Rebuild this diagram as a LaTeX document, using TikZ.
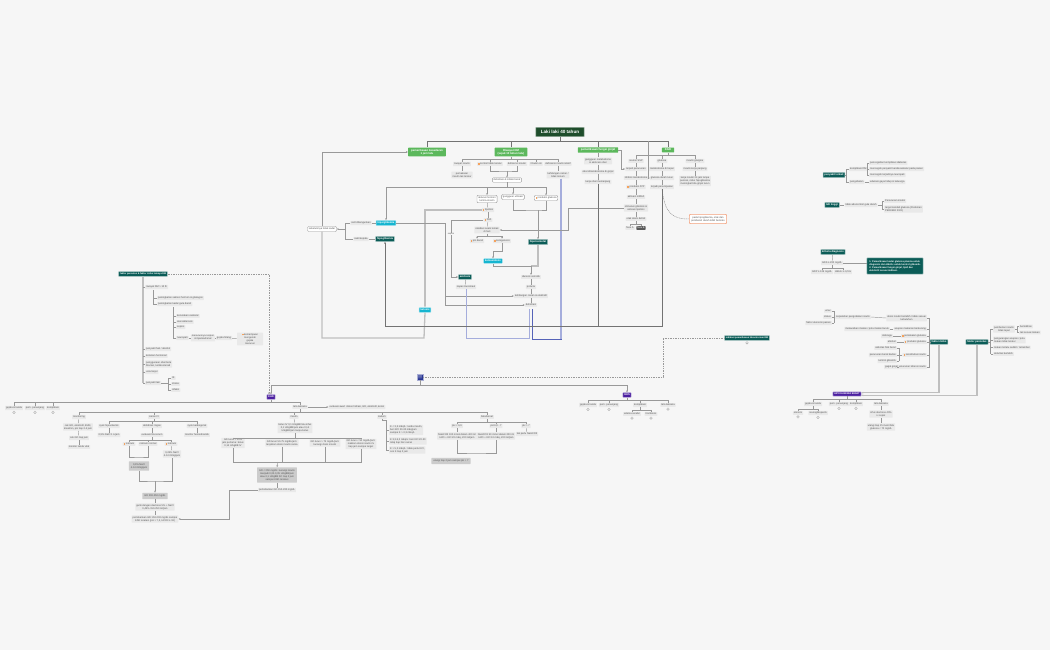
\documentclass[tikz,border=0pt]{standalone}
\usepackage{fontspec}
\setmainfont{Liberation Sans}
\usetikzlibrary{arrows.meta,calc,positioning}
\definecolor{bgc}{HTML}{F6F6F6}
\definecolor{leafc}{HTML}{E9E9E9}
\definecolor{txtc}{HTML}{555555}
\definecolor{rootc}{HTML}{1E4D2B}
\definecolor{grnc}{HTML}{5CB85C}
\definecolor{tealc}{HTML}{0B5C57}
\definecolor{cyanc}{HTML}{16B5D0}
\definecolor{purc}{HTML}{4B1FA0}
\definecolor{navyc}{HTML}{283593}
\definecolor{orgc}{HTML}{F2A07B}
\definecolor{icoc}{HTML}{F5A25D}
\definecolor{lnc}{HTML}{999999}
\definecolor{bl1c}{HTML}{A5ADDC}
\definecolor{bl2c}{HTML}{5563B8}
\newcommand{\icn}{\textcolor{icoc}{\rule{1.6pt}{1.6pt}}\hspace{0.6pt}}
\tikzset{pin/.style={-{Stealth[length=2pt,width=1.8pt]}},
  ln/.style={draw=lnc, line width=0.45pt},
  tk/.style={draw=black!55, line width=0.9pt},
  fat/.style={draw=black!25, line width=1.3pt},
  dsh/.style={draw=lnc, line width=0.5pt, dash pattern=on 1pt off 0.7pt},
  bl1/.style={draw=bl1c, line width=0.9pt},
  bl2/.style={draw=bl2c, line width=0.7pt},
  leaf/.style={fill=leafc, text=txtc, rounded corners=0.5pt, inner sep=1pt, align=center, font=\fontsize{2.5}{3}\selectfont},
  lbox/.style={leaf, fill=white, draw=lnc, line width=0.4pt, rounded corners=1pt, inner sep=1.3pt},
  dg/.style={leaf, fill=black!20, inner sep=2pt},
  dk/.style={leaf, fill=black!65, text=white},
  ob/.style={leaf, fill=white, draw=orgc, line width=0.6pt, rounded corners=1pt, inner sep=2pt},
  hd/.style={inner sep=1.4pt, text=white, align=center, rounded corners=0.5pt, font=\fontsize{2.6}{3.1}\selectfont\bfseries},
  root/.style={hd, fill=rootc, draw=rootc!50, line width=0.6pt, inner xsep=5pt, inner ysep=3pt, font=\fontsize{4.6}{5.5}\selectfont\bfseries},
  gbr/.style={hd, fill=grnc, inner xsep=3pt, font=\fontsize{2.8}{3.3}\selectfont\bfseries},
  tl/.style={hd, fill=tealc, draw=tealc!35, line width=0.5pt},
  cy/.style={hd, fill=cyanc, draw=cyanc!35, line width=0.5pt},
  pu/.style={hd, fill=purc, draw=purc!35, line width=0.5pt},
  ring/.style={circle, draw=lnc, line width=0.3pt, minimum size=2.6pt, inner sep=0pt}}

\begin{document}
\begin{tikzpicture}[x=1pt,y=-1pt]
  \fill[bgc] (0,0) rectangle (1050,650);
  \useasboundingbox (0,0) rectangle (1050,650);
  % title and main branches
  \node[root] (root) at (560,132) {Laki laki 40 tahun};
  \node[gbr] (bA) at (427,152) {pemeriksaan kesadaran\\1 jam lalu};
  \node[gbr] (bB) at (511,152) {Riwayat DM\\(sejak 10 tahun lalu)};
  \node[gbr] (bC) at (598,150) {pemeriksaan fungsi ginjal};
  \node[gbr] (bD) at (668,150) {KGD};
  \coordinate (rbus) at (560,141);
  \draw[tk] (root) -- (rbus);
  \foreach \n in {bA,bB,bC,bD} \draw[tk] (\n.north) |- (rbus);

  % riwayat DM
  \node[leaf] (rwi) at (462,164) {riwayat insulin};
  \node[leaf] (ktt) at (490,164) {\icn kontrol tidak teratur};
  \node[leaf] (dfi) at (517,164) {defisiensi insulin};
  \node[leaf] (tbl) at (536,164) {3 bulan ini};
  \node[leaf] (dir) at (558,164) {defisiensi insulin relatif};
  \node[leaf] (pmk) at (462,175) {pemakaian\\insulin tak teratur};
  \node[leaf] (sbk) at (558,175) {kehilangan cairan /\\tidak minum};
  \node[lbox] (dib) at (507,180) {dehidrasi \& infeksi berat};
  \coordinate (bbus) at (511,159.5);
  \draw[ln] (bB.south) -- (bbus);
  \foreach \n in {rwi,ktt,dfi,tbl,dir} \draw[ln] (\n.north) |- (bbus);
  \draw[ln] (rwi) -- (pmk);
  \draw[ln] (dir) -- (sbk);
  \draw[ln] (ktt.south) |- (507,171) -| (dfi.south);
  \draw[ln,pin] (507,171) -- (dib.north);

  % fisiologi hiperglikemia
  \coordinate (dbus) at (507,187);
  \draw[ln] (dib.south) -- (dbus);
  \node[lbox] (ak) at (487,199) {aktivasi hormon\\kontra-insulin};
  \node[lbox] (gu) at (513,197) {gangguan utilisasi};
  \node[lbox] (pg) at (546,198) {\icn produksi glukosa};
  \node[cy] (cyA) at (386,223) {hiperglikemia};
  \foreach \n in {ak,gu,pg,cyA} \draw[ln,pin] (dbus) -| (\n.north);
  \node[leaf] (lip) at (488,210) {\icn lipolisis};
  \node[leaf] (ffa) at (488,220) {\icn FFA};
  \node[leaf] (oks) at (487,230) {oksidasi asam lemak\\di hati};
  \node[leaf] (ph) at (477,241) {\icn pH darah};
  \node[leaf] (ktg) at (502,241) {\icn ketogenesis};
  \draw[ln] (ak) -- (lip);
  \draw[ln] (lip) -- (ffa);
  \draw[ln] (ffa) -- (oks);
  \coordinate (obus) at (487,236.5);
  \draw[ln] (oks.south) -- (obus);
  \draw[ln,pin] (obus) -| (ph.north);
  \draw[ln,pin] (obus) -| (ktg.north);
  \node[cy] (cyB) at (425,310) {ketosis};
  \node[tl] (tlB) at (465,277) {asidosis};
  \node[leaf] (hv) at (466,287) {napas Kussmaul};
  \node[cy] (cyC) at (493,261) {ketoasidosis};
  \node[tl] (tlC) at (538,242) {hiperosmolar};
  \draw[fat,pin] (lip.west) -| (cyB.north);
  \draw[ln,pin] (ffa.west) -- (451,220) |- (tlB.west);
  \node[font=\fontsize{2.2}{2.5}\selectfont, text=txtc, fill=bgc, inner sep=0.4pt] (sps) at (451,234) {sepsis};
  \draw[ln] (tlB) -- (hv);
  \draw[ln,pin] (ktg.south) -- (502,251) -| (cyC.north);
  \draw[ln] (gu.south) |- (538,210) -| (pg.south);
  \draw[ln,pin] (538,210) -- (tlC.north);
  \node[leaf] (diu) at (531,277) {diuresis osmotik};
  \node[leaf] (pol) at (531,287) {poliuria};
  \node[leaf] (kel) at (531,296) {kehilangan cairan \& elektrolit};
  \node[leaf] (deh) at (531,305) {dehidrasi};
  \coordinate (cbus) at (531,266);
  \draw[fat] (tlC.south) |- (cbus);
  \draw[ln] (cyC.south) |- (cbus);
  \draw[ln,pin] (cbus) -- (diu.north);
  \draw[ln] (diu) -- (pol);
  \draw[ln] (pol) -- (kel);
  \draw[ln] (kel) -- (deh);
  \draw[ln] (cyA.east) -- (445,223);
  \draw[ln,pin] (445,223) |- (kel.west);
  \draw[ln,pin] (445,223) |- (deh.west);
  \coordinate (dl) at (529,308.5);
  \coordinate (dr) at (532.5,308.5);
  \coordinate (sbq) at (561,179);
  \draw[bl1] (hv.south) |- (529,338) -- (dl);
  \draw[bl2] (sbq) |- (532.5,339) -- (dr);
  \draw[draw=bl1c, line width=1.6pt] (sbq) -- (561,338.5);

  % kesadaran
  \node[lbox] (sebel) at (322,229) {sebelumnya tidak sadar};
  \node[leaf] (tbgn) at (361,223) {sulit dibangunkan};
  \node[leaf] (skep) at (361,239) {sakit kepala};
  \node[tl] (tlA) at (385,239) {hipoglikemia};
  \coordinate (sb) at (345,229);
  \draw[ln,pin] (sb) -- (sebel.east);
  \draw[ln] (sb) |- (tbgn.west);
  \draw[ln] (sb) |- (skep.west);
  \draw[ln] (tbgn) -- (cyA);
  \draw[ln] (skep) -- (tlA);
  \draw[ln,pin] (sebel.north) |- (bA.west);
  \draw[fat] (sebel.south) |- (424,338) -- (cyB.south);

  % fungsi ginjal
  \node[leaf] (gme) at (598,161) {gangguan metabolisme\\\& ekskresi obat};
  \node[leaf] (omg) at (598,172) {obat dimetabolisme di ginjal};
  \node[leaf] (kom) at (598,182) {kerja obat memanjang};
  \draw[ln] (bC) -- (gme);
  \draw[ln] (gme) -- (omg);
  \draw[ln] (omg) -- (kom);

  % KGD
  \node[leaf] (d1) at (636,161) {neuron SSP};
  \node[leaf] (d1a) at (636,169) {terjadi penurunan};
  \node[leaf] (d1b) at (636,178) {inhibisi metabolisme};
  \node[leaf] (d1c) at (636,187) {\icn produksi ATP};
  \node[leaf] (d1d) at (636,197) {aktivasi mRNA};
  \node[leaf] (d1e) at (636,208) {stimulasi glikolisis \&\\aktivasi lipolisis};
  \node[leaf] (d1f) at (636,219) {otak alami defisit};
  \node[leaf] (d1g) at (630,228) {fase A};
  \node[dk] (d1h) at (641,228) {fase B};
  \node[leaf] (d2) at (662,161) {glukosa};
  \node[leaf] (d2a) at (662,169) {metabolisme di hepar};
  \node[leaf] (d2b) at (662,178) {glukosa darah turun};
  \node[leaf] (d2c) at (662,187) {terjadi penumpukan};
  \node[leaf] (d3) at (695,161) {insulin glargine};
  \node[leaf] (d3a) at (695,169) {insulin kerja panjang};
  \node[leaf] (d3b) at (695,181) {kerja insulin 24 jam tanpa\\puncak, risiko hipoglikemia\\meningkat bila ginjal turun};
  \node[ob] (ob) at (708,219) {pada hipoglikemia, otak dan\\pembuluh darah lebih berisiko};
  \coordinate (dbus2) at (668,155);
  \draw[ln] (bD.south) -- (dbus2);
  \foreach \n in {d1,d2,d3} \draw[ln] (\n.north) |- (dbus2);
  \foreach \a/\b in {d1/d1a,d1a/d1b,d1b/d1c,d1c/d1d,d1d/d1e,d1e/d1f,d2/d2a,d2a/d2b,d2b/d2c,d3/d3a,d3a/d3b}
    \draw[ln] (\a) -- (\b);
  \draw[ln] (d1f.south) -- (636,224.5);
  \draw[ln] (d1g.north) |- (636,224.5) -| (d1h.north);
  \draw[ln,pin] (bC.east) -- (621,150) |- (d1a.west);
  \draw[ln,pin] (648,141) |- (d2b.west);
  \draw[ln,pin] (d1e.west) -- (568,208) |- (oks.east);
  \draw[dsh] (d2c.south) .. controls (665,212) and (671,219) .. (ob.west);
  \draw[tk,pin] (d2c.south) -- (662,326) -| (tlA.south);
  \draw[tk] (kom.south) -- (598,326);

  % penyakit terkait, GD, kriteria
  \node[tl] (tlR1) at (834,175) {penyakit terkait};
  \node[leaf, anchor=west] (rk1) at (849,169) {komplikasi DM};
  \node[leaf, anchor=west] (rk2) at (849,182) {pengobatan};
  \node[leaf, anchor=west] (r11) at (869,163) {pencegahan komplikasi diabetes};
  \node[leaf, anchor=west] (r12) at (869,169) {mencegah penyakit kardiovaskular pada pasien};
  \node[leaf, anchor=west] (r13) at (869,175) {mencegah terjadinya neuropati};
  \node[leaf, anchor=west] (r21) at (869,182) {edukasi gaya hidup \& keluarga};
  \coordinate (q1) at (846,175);
  \draw[ln] (tlR1.east) -- (q1);
  \draw[ln] (q1) |- (rk1.west);
  \draw[ln] (q1) |- (rk2.west);
  \coordinate (q2) at (867,169);
  \draw[ln] (rk1.east) -- (q2);
  \foreach \n in {r11,r12,r13} \draw[ln] (q2) |- (\n.west);
  \draw[ln] (rk2) -- (r21);
  \node[tl] (tlR2) at (832,205) {GD tinggi};
  \node[leaf] (rk3) at (861,205) {tidak ada kontrol gula darah};
  \node[leaf, anchor=west, align=left] (r31) at (884,201) {Penurunan insulin};
  \node[leaf, anchor=west, align=left] (r32) at (884,209) {target kendali glukosa (Pedoman\\PERKENI 2021)};
  \coordinate (q3) at (882,205);
  \draw[ln] (tlR2) -- (rk3);
  \draw[ln] (rk3.east) -- (q3);
  \draw[ln] (q3) |- (r31.west);
  \draw[ln] (q3) |- (r32.west);
  \node[tl] (tlR3) at (833,252) {kriteria diagnosis};
  \node[leaf] (rk4) at (832,263) {GDS ≥ 200 mg/dL};
  \node[leaf] (r41) at (822,272) {GDP ≥ 126 mg/dL};
  \node[leaf] (r42) at (843,272) {HbA1c ≥ 6,5\%};
  \node[tl, align=left, inner sep=2.5pt, font=\fontsize{2.4}{3.1}\selectfont\bfseries] (tlR4) at (895,266)
    {1. Pemeriksaan kadar glukosa plasma untuk\\diagnosis dan HbA1c untuk kontrol glikemik.\\2. Pemeriksaan fungsi ginjal, lipid dan\\elektrolit sesuai indikasi.};
  \coordinate (q4) at (832,268.5);
  \draw[ln] (tlR3) -- (rk4);
  \draw[ln] (rk4.south) -- (q4);
  \draw[ln] (q4) -| (r41.north);
  \draw[ln] (q4) -| (r42.north);
  \draw[ln] (rk4.east) -- (rk4.east -| tlR4.west);

  % faktor risiko & pencetus hipoglikemia
  \node[tl] (fr) at (939,342) {faktor risiko};
  \coordinate (fsp) at (929.5,342);
  \node[leaf, anchor=east] (rl1) at (927,318) {dosis insulin berlebih / tidak sesuai\\kebutuhan};
  \node[leaf, anchor=east] (rl1a) at (871,317) {kepatuhan pengobatan insulin};
  \node[leaf, anchor=east] (rl1b) at (832,311) {umur};
  \node[leaf, anchor=east] (rl1c) at (832,317) {status};
  \node[leaf, anchor=east] (rl1d) at (832,323) {faktor ekonomi pasien};
  \node[leaf, anchor=east] (rl2) at (927,329) {asupan makanan berkurang};
  \node[leaf, anchor=east] (rl2a) at (890,329) {melewatkan makan / pola makan buruk};
  \node[leaf, anchor=east] (rl3) at (927,336) {\icn pemakaian glukosa};
  \node[leaf, anchor=east] (rl3a) at (893,336) {olahraga};
  \node[leaf, anchor=east] (rl4) at (927,342) {\icn produksi glukosa};
  \node[leaf, anchor=east] (rl4a) at (897,342) {alkohol};
  \node[leaf, anchor=east] (rl5) at (927,355) {\icn sensitivitas insulin};
  \node[leaf, anchor=east] (rl5a) at (897,348) {aktivitas fisik berat};
  \node[leaf, anchor=east] (rl5b) at (897,355) {penurunan berat badan};
  \node[leaf, anchor=east] (rl5c) at (897,361) {kontrol glikemik};
  \node[leaf, anchor=east] (rl6) at (927,367) {penurunan klirens insulin};
  \node[leaf, anchor=east] (rl6a) at (899,367) {gagal ginjal};
  \draw[ln] (fr.west) -- (fsp);
  \draw[ln] (rl1.east -| fsp) -- (rl6.east -| fsp);
  \foreach \n in {rl1,rl2,rl3,rl4,rl5,rl6} \draw[ln] (\n.east) -- (\n.east -| fsp);
  \foreach \a/\b in {rl1a/rl1,rl2a/rl2,rl3a/rl3,rl4a/rl4,rl6a/rl6} \draw[ln] (\a.east) -- (\b.west);
  \coordinate (s1) at (834,317);
  \draw[ln] (rl1a.west) -- (s1);
  \draw[ln] (rl1b.east -| s1) -- (rl1d.east -| s1);
  \foreach \n in {rl1b,rl1c,rl1d} \draw[ln] (\n.east) -- (\n.east -| s1);
  \coordinate (s5) at (899,355);
  \draw[ln] (rl5.west) -- (s5);
  \draw[ln] (rl5a.east -| s5) -- (rl5c.east -| s5);
  \foreach \n in {rl5a,rl5b,rl5c} \draw[ln] (\n.east) -- (\n.east -| s5);
  \node[tl] (fp) at (977,342) {faktor pencetus};
  \coordinate (psp) at (990.5,342);
  \node[leaf, anchor=west] (fp1) at (993,329) {pemberian insulin\\tidak tepat};
  \node[leaf, anchor=west] (fp1a) at ($(fp1.east)+(4,-2.5)$) {berlebihan};
  \node[leaf, anchor=west] (fp1b) at ($(fp1.east)+(4,3.5)$) {tak sesuai makan};
  \node[leaf, anchor=west, align=left] (fp2) at (993,340) {pengurangan asupan / pola\\makan tidak teratur};
  \node[leaf, anchor=west] (fp3) at (993,347.5) {makan terlalu sedikit / terlambat};
  \node[leaf, anchor=west] (fp4) at (993,354) {aktivitas berlebih};
  \draw[ln] (fp.east) -- (psp);
  \draw[ln] (fp1.west -| psp) -- (fp4.west -| psp);
  \foreach \n in {fp1,fp2,fp3,fp4} \draw[ln] (\n.west) -- (\n.west -| psp);
  \draw[ln] (fp1.east) -- ++(2,0) coordinate (s6);
  \draw[ln] (s6) |- (fp1a.west);
  \draw[ln] (s6) |- (fp1b.west);
  \node[pu, font=\fontsize{2.3}{3}\selectfont\bfseries] (hb) at (847,394) {HIPOGLIKEMIA BERAT};
  \draw[fat,pin] (fr.south) |- ($(hb.east)+(0,-1.3)$);
  \draw[fat,pin] (fp.south) |- ($(hb.east)+(0,1.3)$);
  \node[leaf] (h1) at (813,404) {gejala \& tanda};
  \node[leaf] (h2) at (839,404) {pem. penunjang};
  \node[leaf] (h3) at (856,404) {komplikasi};
  \node[leaf] (h4) at (881,404) {tata laksana};
  \node[leaf] (h1a) at (798,413) {otonom};
  \node[leaf] (h1b) at (818,413) {neuroglikopenik};
  \node[leaf] (h4a) at (881,414) {infus dextrose 40\%\\iv cepat};
  \node[leaf] (h4b) at (881,427) {ulangi tiap 15 menit bila\\glukosa < 70 mg/dL};
  \coordinate (hbb) at (847,399);
  \draw[ln] (hb.south) -- (hbb);
  \foreach \n in {h1,h2,h3,h4} \draw[ln] (\n.north) |- (hbb);
  \coordinate (h1q) at (813,409.3);
  \draw[ln] (h1.south) -- (h1q);
  \draw[ln] (h1q) -| (h1a.north);
  \draw[ln] (h1q) -| (h1b.north);
  \draw[ln] (h4) -- (h4a);
  \draw[ln] (h4a) -- (h4b);
  \foreach \n in {h1a,h1b,h2,h3} \node[ring, below=0.5pt of \n] {};

  % faktor pencetus & faktor risiko DM
  \node[tl, font=\fontsize{2.3}{3}\selectfont\bfseries] (fpr) at (143,274) {faktor pencetus \& faktor risiko lainnya DM};
  \node[leaf, anchor=west] (l1) at (145,287) {riwayat DM > 10 th};
  \node[leaf, anchor=west] (l11) at (157,298) {peningkatan sekresi hormon \& glukagon};
  \node[leaf, anchor=west] (l12) at (157,304) {peningkatan kadar gula darah};
  \node[leaf, anchor=west] (l121) at (176,316) {kerusakan vaskular};
  \node[leaf, anchor=west] (l122) at (176,322) {aterosklerosis};
  \node[leaf, anchor=west] (l123) at (176,327) {sepsis};
  \node[leaf, anchor=west] (l124) at (176,338) {neuropati};
  \node[leaf] (l125) at (203,338) {menurunnya respon\\simpatoadrenal};
  \node[leaf] (l126) at (224,338) {gejala hilang};
  \node[leaf, minimum width=26pt] (l127) at (250,339) {\icn kemampuan\\mengenali\\gejala\\menurun};
  \node[leaf, anchor=west] (l2) at (145,349) {penyakit hati / alkohol};
  \node[leaf, anchor=west] (l3) at (145,356) {kelainan hormonal};
  \node[leaf, anchor=west, align=left] (l4) at (145,364) {penggunaan obat beta\\blocker, kortikosteroid};
  \node[leaf, anchor=west] (l5) at (145,372) {usia lanjut};
  \node[leaf, anchor=west] (l6) at (145,383) {penyakit lain};
  \node[leaf, anchor=west] (l61) at (171,378) {IK};
  \node[leaf, anchor=west] (l62) at (171,384) {stroke};
  \node[leaf, anchor=west] (l63) at (171,390) {infeksi};
  \draw[fat] (fpr.south) -- (143,383);
  \foreach \n in {l1,l2,l3,l4,l5,l6} \draw[ln] (\n.west) -- (\n.west -| fpr.south);
  \coordinate (x1) at (153,290);
  \draw[ln] (x1) |- (l12.west);
  \draw[ln] (l11.west) -- (l11.west -| x1);
  \coordinate (x2) at (173,307);
  \draw[ln] (x2) |- (l124.west);
  \foreach \n in {l121,l122,l123} \draw[ln] (\n.west) -- (\n.west -| x2);
  \draw[ln] (l124) -- (l125);
  \draw[ln] (l125) -- (l126);
  \draw[ln] (l126) -- (l127);
  \coordinate (x3) at (168,383);
  \draw[ln] (l6.east) -- (x3);
  \foreach \n in {l61,l62,l63} \draw[ln] (x3) |- (\n.west);

  % KAD and HHS
  \node[fill=navyc, draw=navyc!40, line width=0.5pt, minimum size=5.5pt, inner sep=0pt, text=white, font=\fontsize{3}{3}\selectfont] (hub) at (420,377) {$\equiv$};
  \node[tl, font=\fontsize{2.3}{3}\selectfont\bfseries] (ind) at (747,338) {indikasi pemeriksaan laboratorium DM};
  \node[ring, below=0.6pt of ind] {};
  \node[pu] (kad) at (271,397) {KAD};
  \node[pu] (hhs) at (627,395) {HHS};
  \draw[dsh] (hub.east) -- (663,377) |- (ind.west);
  \coordinate (pbus) at (420,385);
  \draw[ln] (hub.south) -- (pbus);
  \draw[ln,pin] (pbus) -| (kad.north);
  \draw[ln,pin] (pbus) -| (hhs.north);
  \draw[dsh,pin] (fpr.east) -| ($(kad.north)+(-2,0)$);
  \node[leaf] (k1) at (14,408) {gejala \& tanda};
  \node[leaf] (k2) at (35,408) {pem. penunjang};
  \node[leaf] (k3) at (53,408) {komplikasi};
  \node[leaf] (k4) at (300,407) {tata laksana};
  \node[leaf] (k4r) at (357,407) {evaluasi awal: status hidrasi, GD, elektrolit, keton};
  \foreach \n in {k1,k2,k3} \node[ring, below=0.5pt of \n] {};
  \coordinate (kbus) at (271,402.5);
  \draw[ln] (kad.south) -- (kbus);
  \foreach \n in {k1,k2,k3,k4} \draw[ln] (\n.north) |- (kbus);
  \draw[ln,pin] (k4) -- (k4r);
  \node[leaf] (m1) at (79,417) {monitoring};
  \node[leaf] (m2) at (154,417) {cairan IV};
  \node[leaf] (m3) at (294,417) {insulin};
  \node[leaf] (m4) at (382,417) {kalium};
  \node[leaf] (m5) at (487,417) {bikarbonat};
  \coordinate (tbus) at (300,412.5);
  \draw[ln] (k4.south) -- (tbus);
  \foreach \n in {m1,m2,m3,m4,m5} \draw[ln] (\n.north) |- (tbus);
  % monitoring
  \node[leaf] (m1a) at (78,427) {cek GD, elektrolit, BUN,\\kreatinin, pH tiap 2-4 jam};
  \node[leaf] (m1b) at (79,438) {cek GD tiap jam};
  \node[leaf] (m1c) at (79,447) {monitor tanda vital};
  \draw[ln] (m1) -- (m1a);
  \draw[ln] (m1a) -- (m1b);
  \draw[ln] (m1b) -- (m1c);
  % cairan
  \node[leaf] (m21) at (109,426) {syok hipovolemik};
  \node[leaf] (m22) at (152,426) {dehidrasi ringan};
  \node[leaf] (m23) at (197,426) {syok kardiogenik};
  \node[leaf] (m21a) at (109,435) {0,9\% NaCl 1 L/jam};
  \node[leaf] (m22a) at (152,435) {evaluasi Na serum};
  \node[leaf] (m23a) at (197,435) {monitor hemodinamik};
  \coordinate (cbus2) at (154,421.5);
  \draw[ln] (m2.south) -- (cbus2);
  \foreach \n in {m21,m22,m23} \draw[ln] (\n.north) |- (cbus2);
  \draw[ln] (m21) -- (m21a);
  \draw[ln] (m22) -- (m22a);
  \draw[ln] (m23) -- (m23a);
  \node[leaf] (n1) at (129,444) {\icn natrium};
  \node[leaf] (n2) at (148,444) {natrium normal};
  \node[leaf] (n3) at (171,444) {\icn natrium};
  \coordinate (nbus) at (152,440.5);
  \draw[ln] (m22a.south) -- (nbus);
  \foreach \n in {n1,n2,n3} \draw[ln] (\n.north) |- (nbus);
  \node[leaf] (n3a) at (172,454) {0,45\% NaCl\\4-14 ml/kg/jam};
  \draw[ln] (n3) -- (n3a);
  \draw[ln] (n1.south) |- (139,457) -| (n2.south);
  \node[dg] (n1a) at (139,466) {0,9\% NaCl\\4-14 ml/kg/jam};
  \node[dg] (n4) at (155,496) {GD 200-250 mg/dL};
  \node[leaf] (n5) at (155,507) {ganti dengan dextrose 5\% + NaCl\\0,45\% 150-250 ml/jam};
  \node[leaf] (n6) at (155,519) {pertahankan GD 150-200 mg/dL sampai\\KAD teratasi (pH > 7,3, HCO3 ≥ 18)};
  \draw[ln] (n1a.south) |- (155,481) -| (n3a.south);
  \draw[ln,pin] (155,481) -- (n4.north);
  \draw[ln] (n4) -- (n5);
  \draw[ln] (n5) -- (n6);
  % insulin
  \node[leaf] (m3a) at (295,428) {bolus IV 0,1 U/kgBB lalu infus\\0,1 U/kgBB/jam atau 0,14\\U/kgBB/jam tanpa bolus};
  \draw[ln] (m3) -- (m3a);
  \node[leaf] (m31) at (233,443) {GD turun < 10\%\\jam pertama: bolus\\0,14 U/kgBB IV};
  \node[leaf] (m32) at (282,443) {GD turun 50-75 mg/dL/jam:\\lanjutkan dosis insulin sama};
  \node[leaf] (m33) at (325,443) {GD turun > 75 mg/dL/jam:\\kurangi dosis insulin};
  \node[leaf] (m34) at (361,444) {GD turun < 50 mg/dL/jam:\\naikkan dosis insulin 2x\\tiap jam sampai target};
  \coordinate (ibus) at (295,438);
  \draw[ln] (m3a.south) -- (ibus);
  \foreach \n in {m31,m32,m33,m34} \draw[ln] (\n.north) |- (ibus);
  \coordinate (ub) at (278,462);
  \foreach \n in {m31,m32,m33,m34} \draw[ln] (\n.south) |- (ub);
  \node[dg] (m35) at (277,475) {GD < 250 mg/dL: kurangi insulin\\menjadi 0,02-0,05 U/kgBB/jam\\atau 0,1 U/kgBB SC tiap 2 jam\\sampai KAD teratasi};
  \node[leaf] (m36) at (277,490) {pertahankan GD 150-200 mg/dL};
  \draw[ln,pin] (ub) -- (m35.north);
  \draw[ln] (m35) -- (m36);
  \draw[ln,pin] (m36.west) -- (229,490) |- (n6.east);
  % kalium
  \node[leaf, anchor=west, align=left] (m41) at (389,430) {K < 3,3 mEq/L: tunda insulin,\\beri KCl 20-30 mEq/jam\\sampai K > 3,3 mEq/L};
  \node[leaf, anchor=west, align=left] (m42) at (389,441) {K 3,3-5,2 mEq/L: beri KCl 20-30\\mEq tiap liter cairan};
  \node[leaf, anchor=west, align=left] (m43) at (389,450) {K > 5,2 mEq/L: tidak perlu KCl,\\cek K tiap 2 jam};
  \coordinate (ks) at (386,420);
  \draw[ln] (m4.south) |- (ks);
  \foreach \n in {m41,m42,m43} \draw[ln] (ks) |- (\n.west);
  % bikarbonat
  \node[leaf] (p1) at (457,426) {pH < 6,9};
  \node[leaf] (p2) at (496,426) {pH 6,9 - 7};
  \node[leaf] (p3) at (526,426) {pH > 7};
  \node[leaf] (p1a) at (457,436) {NaHCO3 100 mmol dalam 400 ml\\H2O + KCl 20 mEq, 200 ml/jam};
  \node[leaf] (p2a) at (496,436) {NaHCO3 50 mmol dalam 200 ml\\H2O + KCl 10 mEq, 200 ml/jam};
  \node[leaf] (p3a) at (527,434) {tak perlu NaHCO3};
  \node[dg] (p4) at (451,461) {ulangi tiap 2 jam sampai pH > 7};
  \coordinate (pbus2) at (487,422);
  \draw[ln] (m5.south) -- (pbus2);
  \foreach \n in {p1,p2,p3} \draw[ln] (\n.north) |- (pbus2);
  \draw[ln] (p1) -- (p1a);
  \draw[ln] (p2) -- (p2a);
  \draw[ln] (p3) -- (p3a);
  \draw[ln] (p1a.south) |- (476,453) -| (p2a.south);
  % HHS
  \node[leaf] (s1) at (588,405) {gejala \& tanda};
  \node[leaf] (s2) at (609,405) {pem. penunjang};
  \node[leaf] (s3) at (640,405) {komplikasi};
  \node[leaf] (s4) at (668,405) {tata laksana};
  \node[leaf] (s31) at (632,414) {edema serebri};
  \node[leaf] (s32) at (651,414) {trombosis};
  \coordinate (sbus) at (627,400);
  \draw[ln] (hhs.south) -- (sbus);
  \foreach \n in {s1,s2,s3,s4} \draw[ln] (\n.north) |- (sbus);
  \coordinate (sbus2) at (640,410);
  \draw[ln] (s3.south) -- (sbus2);
  \draw[ln] (sbus2) -| (s31.north);
  \draw[ln] (sbus2) -| (s32.north);
  \foreach \n in {s1,s2,s4,s31,s32} \node[ring, below=0.5pt of \n] {};
\end{tikzpicture}
\end{document}
